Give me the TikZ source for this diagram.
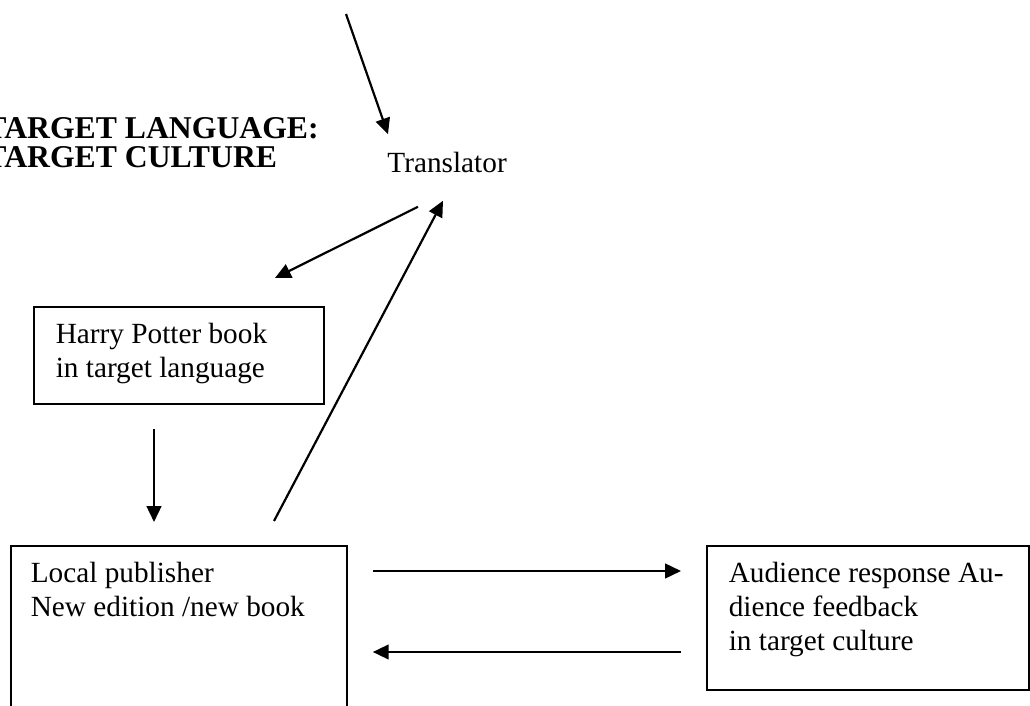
\documentclass[tikz,border=0pt]{standalone}
\usepackage{fontspec}
\setmainfont{Liberation Serif}
\usetikzlibrary{arrows.meta,calc}
\tikzset{
  panel/.style={draw, line width=0.7pt, anchor=north west, inner xsep=9pt, inner ysep=5.3pt},
  flow/.style={-{Triangle[length=6.5pt,width=6pt]}, line width=0.9pt},
  heading/.style={font=\fontsize{13}{14}\selectfont\bfseries, inner sep=0pt, anchor=base west},
}
\newcommand{\boxtext}[3]{\parbox[t][#2][t]{#1}{\raggedright\strut #3}}

\begin{document}
\begin{tikzpicture}[x=0.41pt, y=-0.41pt, font=\fontsize{12}{14}\selectfont]
  % page frame
  \useasboundingbox (0,0) rectangle (1030,706);
  \clip (0,0) rectangle (1030,706);

  % heading
  \node [heading] (tl) at (-15,139) {TARGET LANGUAGE:};
  \node [heading] (tc) at (-15,168) {TARGET CULTURE};

  % translator
  \coordinate (src) at (346,14);
  \node [inner sep=0pt, anchor=base west] (trans) at (387,173) {Translator};

  % boxes
  \node [panel] (hp) at (33,306) {\boxtext{100.9pt}{29.2pt}{Harry Potter book\\in target language}};
  \node [panel, inner xsep=8.2pt] (pub) at (10,545) {\boxtext{121.4pt}{65.3pt}{Local publisher\\New edition /new book}};
  \node [panel] (aud) at (706,545) {\boxtext{114pt}{48.4pt}{Audience response Au-\\dience feedback\\in target culture}};

  % arrows
  \draw [flow] (src) -- ($(trans.north west)+(1,-18)$);
  \draw [flow] ($(trans.south west)+(31,33)$) -- ($(hp.north west)+(242,-28)$);
  \draw [flow] ($(hp.south west)+(121,24)$) -- ($(pub.north west)+(144,-23)$);
  \draw [flow] ($(pub.north west)+(264,-24)$) -- ($(trans.south west)+(56,27)$);
  \draw [flow] ($(pub.north east)+(25,26)$) -- ($(aud.north west)+(-25,26)$);
  \draw [flow] ($(aud.north west)+(-25,107)$) -- ($(pub.north east)+(25,107)$);
\end{tikzpicture}
\end{document}
